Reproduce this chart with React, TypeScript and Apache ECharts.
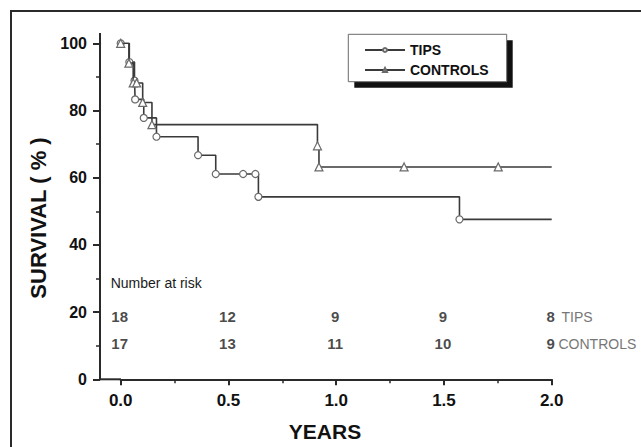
import React, { useEffect, useRef } from "react";
import * as echarts from "echarts";

// Kaplan-Meier survival curves (years, % survival)
const tipsTimes = [0, 0.04, 0.064, 0.067, 0.107, 0.166, 0.359, 0.441, 0.568, 0.625, 0.639, 1.572, 2.0];
const tipsSurvival = [100, 94.4, 88.9, 83.3, 77.8, 72.2, 66.7, 61.1, 61.1, 61.1, 54.3, 47.6, 47.6];
const controlsTimes = [0, 0.038, 0.058, 0.074, 0.102, 0.145, 0.913, 0.92, 1.315, 1.752, 2.0];
const controlsSurvival = [100, 94.1, 88.2, 88.2, 82.4, 75.8, 69.5, 63.2, 63.2, 63.2, 63.2];

// Number at risk table
const riskTimes = [0, 0.5, 1.0, 1.5, 2.0];
const tipsAtRisk = [18, 12, 9, 9, 8];
const controlsAtRisk = [17, 13, 11, 10, 9];

const xTicks = ["0.0", "0.5", "1.0", "1.5", "2.0"];
const seriesNames = ["TIPS", "CONTROLS"];

const FONT = "'Liberation Sans', Arial, Helvetica, sans-serif";
const LINE = "#3a3a3a";
const AXIS = "#2a2a2a";

function curveData(times: number[], surv: number[]) {
  return times.map((t, i) => {
    const item: any = { value: [t, surv[i]] };
    if (i === times.length - 1) item.symbol = "none";
    return item;
  });
}

function riskSeries(name: string, counts: number[], level: number) {
  return {
    name,
    type: "scatter",
    symbol: "circle",
    symbolSize: 1,
    itemStyle: { color: "rgba(0,0,0,0)" },
    silent: true,
    z: 5,
    label: {
      show: true,
      position: "inside",
      offset: [-1, 0],
      formatter: (p: any) => String(counts[p.dataIndex]),
      fontFamily: FONT,
      fontWeight: "bold",
      fontSize: 15,
      color: "#1a1a1a",
    },
    data: riskTimes.map((t) => [t, level]),
  };
}

export default function App() {
  const ref = useRef<HTMLDivElement>(null);

  useEffect(() => {
    document.body.style.margin = "0";
    const chart = echarts.init(ref.current!, null, { renderer: "svg" });
    const option: any = {
      animation: false,
      backgroundColor: "#ffffff",
      grid: { left: 120.7, right: 89.3, top: 43.3, bottom: 67.7, containLabel: false },
      xAxis: {
        type: "value",
        min: 0,
        max: 2,
        interval: 0.5,
        axisLine: { show: true, onZero: false, lineStyle: { color: AXIS, width: 2 } },
        axisTick: { show: true, length: 6, lineStyle: { color: AXIS, width: 2 } },
        minorTick: { show: true, splitNumber: 2, length: 4, lineStyle: { color: AXIS, width: 1.5 } },
        splitLine: { show: false },
        minorSplitLine: { show: false },
        axisLabel: {
          margin: 13,
          fontFamily: FONT,
          fontWeight: "bold",
          fontSize: 17,
          color: "#111",
          formatter: (v: number) => xTicks[Math.round(v / 0.5)] ?? "",
        },
      },
      yAxis: {
        type: "value",
        min: 0,
        max: 100,
        interval: 20,
        offset: 20.7,
        axisLine: { show: true, onZero: false, lineStyle: { color: AXIS, width: 2 } },
        axisTick: { show: true, length: 7, lineStyle: { color: AXIS, width: 2 } },
        minorTick: { show: true, splitNumber: 2, length: 4, lineStyle: { color: AXIS, width: 1.5 } },
        splitLine: { show: false },
        minorSplitLine: { show: false },
        axisLabel: {
          margin: 13,
          fontFamily: FONT,
          fontWeight: "bold",
          fontSize: 16,
          color: "#111",
        },
      },
      legend: {
        data: seriesNames,
        orient: "vertical",
        left: 364,
        top: 43,
        padding: 0,
        itemWidth: 40,
        itemHeight: 5,
        itemGap: 6,
        z: 10,
        selectedMode: false,
        textStyle: { fontFamily: FONT, fontWeight: "bold", fontSize: 14, color: "#111" },
      },
      series: [
        {
          name: seriesNames[0],
          type: "line",
          step: "end",
          symbol: "circle",
          symbolSize: 7,
          showAllSymbol: true,
          lineStyle: { color: LINE, width: 1.6 },
          itemStyle: { color: "#ffffff", borderColor: "#6a6a6a", borderWidth: 1.2 },
          z: 3,
          data: curveData(tipsTimes, tipsSurvival),
        },
        {
          name: seriesNames[1],
          type: "line",
          step: "end",
          symbol: "triangle",
          symbolSize: 8,
          showAllSymbol: true,
          lineStyle: { color: LINE, width: 1.6 },
          itemStyle: { color: "#ffffff", borderColor: "#6a6a6a", borderWidth: 1.2 },
          z: 4,
          data: curveData(controlsTimes, controlsSurvival),
        },
        riskSeries("riskTips", tipsAtRisk, 18.8),
        riskSeries("riskControls", controlsAtRisk, 10.7),
      ],
      graphic: [
        {
          type: "rect",
          z: 0,
          shape: { x: 11, y: 11, width: 700, height: 500 },
          style: { fill: "none", stroke: "#2a2a2a", lineWidth: 2 },
          silent: true,
        },
        {
          type: "line",
          z: 1,
          shape: { x1: 100, y1: 33, x2: 100, y2: 44 },
          style: { stroke: AXIS, lineWidth: 2 },
          silent: true,
        },
        {
          type: "line",
          z: 1,
          shape: { x1: 99, y1: 379.3, x2: 121, y2: 379.3 },
          style: { stroke: AXIS, lineWidth: 2 },
          silent: true,
        },
        {
          type: "rect",
          z: 6,
          shape: { x: 354.3, y: 40.3, width: 158.4, height: 47.4 },
          style: { fill: "#111111" },
          silent: true,
        },
        {
          type: "rect",
          z: 7,
          shape: { x: 348.3, y: 34.3, width: 158.4, height: 47.4 },
          style: { fill: "#ffffff", stroke: "#6a6a6a", lineWidth: 1 },
          silent: true,
        },
        {
          type: "text",
          z: 8,
          x: 110.7,
          y: 282.7,
          style: {
            text: "Number at risk",
            font: `14px ${FONT}`,
            fill: "#1a1a1a",
            align: "left",
            verticalAlign: "middle",
          },
        },
        {
          type: "text",
          z: 8,
          x: 561.5,
          y: 317,
          style: {
            text: "TIPS",
            font: `14px ${FONT}`,
            fill: "#777777",
            align: "left",
            verticalAlign: "middle",
          },
        },
        {
          type: "text",
          z: 8,
          x: 558.5,
          y: 343.5,
          style: {
            text: "CONTROLS",
            font: `14px ${FONT}`,
            fill: "#777777",
            align: "left",
            verticalAlign: "middle",
          },
        },
        {
          type: "text",
          z: 8,
          x: 38,
          y: 218,
          rotation: Math.PI / 2,
          style: {
            text: "SURVIVAL ( % )",
            font: `bold 22px ${FONT}`,
            fill: "#111",
            align: "center",
            verticalAlign: "middle",
          },
        },
        {
          type: "text",
          z: 8,
          x: 325,
          y: 431.7,
          style: {
            text: "YEARS",
            font: `bold 21px ${FONT}`,
            fill: "#111",
            align: "center",
            verticalAlign: "middle",
          },
        },
      ],
    };
    chart.setOption(option);
    return () => chart.dispose();
  }, []);

  return (
    <div
      ref={ref}
      style={{ position: "absolute", left: 0, top: 0, width: 641, height: 447 }}
    />
  );
}
